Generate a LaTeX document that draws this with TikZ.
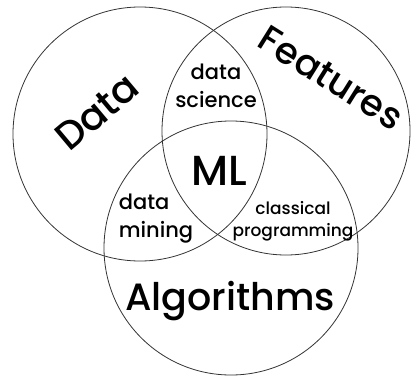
\documentclass[tikz,border=0pt]{standalone}
\usepackage{fontspec}
\setmainfont{Poppins}[UprightFont={* Medium}]
\begin{document}
\begin{tikzpicture}[x=1pt,y=-1pt,
  ring/.style={draw=black!80, line width=0.8pt},
  biglabel/.style={font=\fontsize{38}{40}\selectfont, inner sep=0pt},
  midlabel/.style={font=\fontsize{21}{28}\selectfont, inner sep=0pt, align=center},
  smalllabel/.style={font=\fontsize{17}{22}\selectfont, inner sep=0pt, align=center}]
\useasboundingbox (0,0) rectangle (411,377);
% the three sets
\draw[ring] (140,134) circle[radius=127];
\draw[ring] (286,131) circle[radius=124];
\draw[ring] (231,248) circle[radius=127];
% set names
\node[biglabel, rotate=40, font=\fontsize{39}{40}\selectfont] (data) at (97,112) {Data};
\node[biglabel, rotate=-32, font=\fontsize{37}{40}\selectfont] (features) at (331,78) {Features};
\node[biglabel] (algorithms) at (230,301) {Algorithms};
% overlaps
\node[midlabel] (ds) at (216,86) {data\\science};
\node[biglabel, font=\fontsize{42}{42}\selectfont] (ml) at (219.5,171) {ML};
\node[midlabel, align=left] (dm) at (156,219) {data\\mining};
\node[smalllabel] (cp) at (293,221) {classical\\programming};
\end{tikzpicture}
\end{document}
